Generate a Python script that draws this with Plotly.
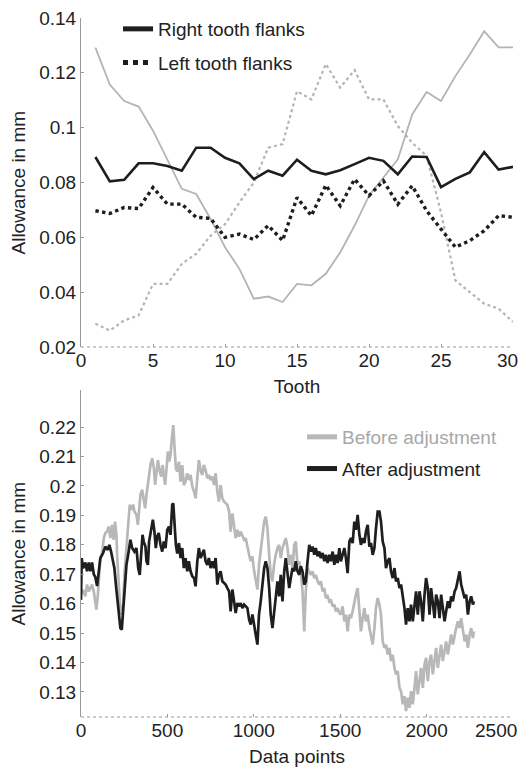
import plotly.graph_objects as go

# ---------------- top chart data ----------------
teeth = list(range(1, 31))
right_after = [0.0893, 0.0804, 0.081, 0.087, 0.087, 0.086, 0.0843, 0.0927, 0.0927, 0.089,
               0.087, 0.0812, 0.0843, 0.0825, 0.0883, 0.0843, 0.083, 0.0845, 0.0867, 0.089,
               0.0879, 0.083, 0.0895, 0.0893, 0.0783, 0.0813, 0.0837, 0.0911, 0.0847, 0.0857]
left_after = [0.0697, 0.0687, 0.0709, 0.0705, 0.0782, 0.0721, 0.0721, 0.0673, 0.0669, 0.06,
              0.0612, 0.0592, 0.0643, 0.0588, 0.0745, 0.0679, 0.079, 0.0715, 0.0812, 0.0752,
              0.0806, 0.0721, 0.0788, 0.0697, 0.063, 0.0564, 0.0588, 0.0624, 0.0679, 0.0673]
right_before = [0.1292, 0.1157, 0.1097, 0.1077, 0.0989, 0.088, 0.0777, 0.0758, 0.0667, 0.0564,
                0.0485, 0.0376, 0.0384, 0.0364, 0.043, 0.0425, 0.0467, 0.0545, 0.0643, 0.0752,
                0.082, 0.0885, 0.1048, 0.113, 0.1097, 0.1188, 0.1267, 0.1352, 0.1293, 0.1293]
left_before = [0.0285, 0.026, 0.0297, 0.0315, 0.043, 0.043, 0.0503, 0.054, 0.0606, 0.0648,
               0.0727, 0.08, 0.0927, 0.094, 0.1133, 0.1103, 0.1232, 0.1146, 0.121, 0.1103,
               0.1103, 0.1006, 0.0945, 0.0897, 0.0691, 0.0443, 0.04, 0.0358, 0.034, 0.0291]
top_yticks = [0.02, 0.04, 0.06, 0.08, 0.1, 0.12, 0.14]
top_yticktext = ["0.02", "0.04", "0.06", "0.08", "0.1", "0.12", "0.14"]
top_xticks = [0, 5, 10, 15, 20, 25, 30]
top_xticktext = ["0", "5", "10", "15", "20", "25", ""]
top_last_label = "30"

# ---------------- bottom chart data ----------------
after_head_x = [0, 4, 12, 25, 35, 45, 54, 64, 74, 83, 93, 99, 112, 128, 141, 155, 164, 174, 186, 193,
                205, 216, 228, 236, 244, 251, 263, 276, 286, 296, 309, 321, 331, 340, 348, 356, 363, 373, 379, 387,
                394, 406, 416, 425, 433, 441, 450, 460, 470, 479, 489, 499, 509, 518, 528, 534, 541, 549, 557]
after_head_y = [0.1613, 0.1755, 0.172, 0.174, 0.171, 0.174, 0.171, 0.174, 0.170, 0.169,
                0.166, 0.1693, 0.1755, 0.1772, 0.1794, 0.1783, 0.18, 0.1777, 0.1744, 0.1721,
                0.1647, 0.1574, 0.1517, 0.1512, 0.1574, 0.1653, 0.1732, 0.1777, 0.1817, 0.1789,
                0.1777, 0.1789, 0.1721, 0.1698, 0.1789, 0.1834, 0.1811, 0.1794, 0.1744, 0.1732,
                0.1811, 0.1851, 0.1885, 0.1845, 0.1789, 0.1828, 0.184, 0.18, 0.1777, 0.1811,
                0.1789, 0.1851, 0.1862, 0.1834, 0.1936, 0.1941, 0.1868, 0.18, 0.177]
before_head_x = [0, 12, 25, 35, 45, 54, 64, 74, 83, 89, 97, 104, 112, 122, 132, 141, 151, 160, 170, 180,
                 189, 197, 205, 209, 216, 224, 228, 244, 251, 263, 271, 282, 292, 302, 309, 321, 329, 336, 344, 354,
                 363, 371, 379, 387, 394, 402, 412, 422, 429, 437, 445, 454, 464, 472, 479, 487, 495, 503, 511, 518,
                 526, 534, 541, 549, 557]
before_head_y = [0.163, 0.1647, 0.1625, 0.1665, 0.1642, 0.1653, 0.1665, 0.1642, 0.1608, 0.158,
                 0.1625, 0.1698, 0.1755, 0.1772, 0.1823, 0.184, 0.1845, 0.1862, 0.1823, 0.1868,
                 0.1817, 0.1879, 0.1834, 0.1766, 0.1665, 0.1608, 0.1563, 0.1597, 0.1698, 0.1789,
                 0.1879, 0.1936, 0.1919, 0.1936, 0.1913, 0.1902, 0.1868, 0.1913, 0.197, 0.1987,
                 0.1947, 0.1924, 0.197, 0.2004, 0.2021, 0.2071, 0.2094, 0.206, 0.2004, 0.206,
                 0.2088, 0.2054, 0.2032, 0.2071, 0.2043, 0.2004, 0.206, 0.2117, 0.2083, 0.2105,
                 0.2162, 0.2207, 0.2134, 0.206, 0.2049]
tail_x = [567, 576, 586, 595, 605, 615, 624, 634, 644, 654, 663, 673, 682, 692, 702, 711, 721, 731, 740, 750,
          760, 770, 779, 789, 798, 808, 818, 827, 837, 847, 857, 866, 876, 886, 895, 905, 914, 924, 934, 944,
          953, 963, 973, 982, 992, 1002, 1011, 1021, 1030, 1040, 1050, 1060, 1069, 1079, 1089, 1098, 1108, 1117, 1127, 1137,
          1147, 1156, 1166, 1176, 1185, 1195, 1205, 1214, 1224, 1234, 1243, 1253, 1263, 1272, 1282, 1292, 1301, 1311, 1321, 1330,
          1340, 1350, 1359, 1369, 1379, 1388, 1398, 1408, 1417, 1427, 1437, 1446, 1456, 1466, 1475, 1485, 1495, 1504, 1514, 1524,
          1533, 1543, 1553, 1562, 1572, 1582, 1591, 1601, 1611, 1620, 1630, 1640, 1649, 1659, 1669, 1678, 1688, 1698, 1707, 1717,
          1727, 1736, 1746, 1756, 1765, 1775, 1785, 1794, 1804, 1814, 1823, 1833, 1843, 1852, 1862, 1872, 1881, 1891, 1901, 1910,
          1920, 1930, 1939, 1949, 1959, 1968, 1978, 1988, 1997, 2007, 2017, 2026, 2036, 2046, 2055, 2065, 2075, 2084, 2094, 2104,
          2113, 2123, 2133, 2142, 2152, 2162, 2171, 2181, 2191, 2200, 2210, 2220, 2229, 2239, 2249, 2258, 2268, 2274]
after_tail_y = [0.1806, 0.1755, 0.1789, 0.1721, 0.1755, 0.171, 0.1744, 0.171, 0.1693, 0.1687,
                0.1659, 0.1744, 0.1789, 0.1755, 0.1772, 0.1783, 0.1744, 0.1732, 0.1755, 0.1721,
                0.1744, 0.1721, 0.1755, 0.1665, 0.1698, 0.171, 0.1676, 0.167, 0.1665, 0.1653,
                0.1642, 0.1574, 0.1648, 0.1608, 0.1568, 0.1602, 0.1591, 0.1602, 0.1585, 0.1597,
                0.1591, 0.1585, 0.1546, 0.1529, 0.1563, 0.1517, 0.1495, 0.1461, 0.1563, 0.1608,
                0.1665, 0.1721, 0.1744, 0.1721, 0.1653, 0.1563, 0.1517, 0.1563, 0.1631, 0.1676,
                0.1625, 0.1698, 0.1608, 0.171, 0.1755, 0.171, 0.1653, 0.1687, 0.1721, 0.171,
                0.1744, 0.171, 0.1698, 0.1727, 0.171, 0.1665, 0.1676, 0.1744, 0.18, 0.1777,
                0.1794, 0.1766, 0.1789, 0.1761, 0.1777, 0.1755, 0.1772, 0.1744, 0.1766, 0.1738,
                0.1766, 0.1744, 0.1777, 0.1732, 0.1766, 0.1738, 0.1789, 0.1744, 0.1766, 0.1789,
                0.1755, 0.1704, 0.1811, 0.1823, 0.1806, 0.1879, 0.1851, 0.1902, 0.1834, 0.18,
                0.1823, 0.1806, 0.1845, 0.1868, 0.1794, 0.1806, 0.1766, 0.1789, 0.1856, 0.1913,
                0.1913, 0.1879, 0.1811, 0.1789, 0.1721, 0.1744, 0.1755, 0.171, 0.1687, 0.1721,
                0.1676, 0.1687, 0.1653, 0.1665, 0.1625, 0.1585, 0.1529, 0.1585, 0.154, 0.1597,
                0.154, 0.1585, 0.1642, 0.1563, 0.1642, 0.1608, 0.154, 0.1631, 0.1687, 0.1653,
                0.1563, 0.1653, 0.1608, 0.1551, 0.1631, 0.1608, 0.1551, 0.1631, 0.1585, 0.154,
                0.1574, 0.1608, 0.1585, 0.1625, 0.1608, 0.1642, 0.1653, 0.1687, 0.171, 0.1665,
                0.1642, 0.1619, 0.1631, 0.1563, 0.1608, 0.1625, 0.1597, 0.1608]
before_tail_y = [0.2082, 0.2015, 0.2071, 0.2003, 0.2015, 0.2043, 0.202, 0.2037, 0.1998, 0.1981,
                 0.1958, 0.2026, 0.2088, 0.2054, 0.2037, 0.2071, 0.2054, 0.2026, 0.2037, 0.202,
                 0.2032, 0.2003, 0.2043, 0.1981, 0.1947, 0.2003, 0.1958, 0.1947, 0.1941, 0.1936,
                 0.1913, 0.1845, 0.1907, 0.1856, 0.1823, 0.1851, 0.1828, 0.1845, 0.1828, 0.1817,
                 0.1823, 0.1789, 0.1766, 0.1744, 0.1761, 0.171, 0.1676, 0.1648, 0.1732, 0.1789,
                 0.1834, 0.1879, 0.1896, 0.1856, 0.1766, 0.1698, 0.1676, 0.1732, 0.1766, 0.1789,
                 0.18, 0.1755, 0.1789, 0.1811, 0.1823, 0.1789, 0.1732, 0.1766, 0.1721, 0.18,
                 0.1811, 0.1732, 0.1744, 0.171, 0.1642, 0.1506, 0.1642, 0.1721, 0.171, 0.1698,
                 0.171, 0.1687, 0.1698, 0.1676, 0.1665, 0.1676, 0.1642, 0.1653, 0.1619, 0.1625,
                 0.1608, 0.1614, 0.1591, 0.1597, 0.1574, 0.1585, 0.1568, 0.1563, 0.1591, 0.154,
                 0.1563, 0.1506, 0.1563, 0.1551, 0.1574, 0.1608, 0.1631, 0.1653, 0.1563, 0.1506,
                 0.1551, 0.1585, 0.154, 0.1563, 0.1517, 0.1495, 0.1461, 0.1517, 0.1585, 0.1619,
                 0.1597, 0.1563, 0.1472, 0.145, 0.1461, 0.1427, 0.145, 0.1405, 0.1427, 0.1382,
                 0.136, 0.1371, 0.1314, 0.1303, 0.1258, 0.1286, 0.1235, 0.1281, 0.1246, 0.1303,
                 0.1258, 0.1314, 0.1371, 0.1292, 0.1348, 0.1382, 0.1314, 0.1393, 0.1416, 0.1337,
                 0.1405, 0.1427, 0.136, 0.1416, 0.145, 0.1382, 0.1427, 0.1461, 0.1405, 0.145,
                 0.1472, 0.1427, 0.1472, 0.1495, 0.1461, 0.1495, 0.1517, 0.154, 0.1517, 0.1551,
                 0.1517, 0.1472, 0.1495, 0.145, 0.1495, 0.1517, 0.1483, 0.1506]
bot_yticks = [0.13, 0.14, 0.15, 0.16, 0.17, 0.18, 0.19, 0.2, 0.21, 0.22]
bot_yticktext = ["0.13", "0.14", "0.15", "0.16", "0.17", "0.18", "0.19", "0.2", "0.21", "0.22"]
bot_xticks = [0, 500, 1000, 1500, 2000, 2500]
bot_xticktext = ["0", "500", "1000", "1500", "2000", ""]
bot_last_label = "2500"

after_x = after_head_x + tail_x
after_y = after_head_y + after_tail_y
before_x = before_head_x + tail_x
before_y = before_head_y + before_tail_y

# ---------------- styling ----------------
BLACK = "#1e1e1e"
GRAY = "#b4b4b4"
AXIS = "#9a9a9a"
FONT = "Liberation Sans, Arial, sans-serif"
FS = 19

W, H = 522, 773
ML, MR, MT, MB = 81, 9, 18, 56
PW = W - ML - MR
PH = H - MT - MB

def frac(ypx):
    return (H - MB - ypx) / PH

fig = go.Figure()

# top chart
fig.add_trace(go.Scatter(x=teeth, y=right_before, mode="lines", line=dict(color=GRAY, width=1.8),
                         showlegend=False, xaxis="x", yaxis="y"))
fig.add_trace(go.Scatter(x=teeth, y=left_before, mode="lines", line=dict(color=GRAY, width=2.2, dash="dot"),
                         showlegend=False, xaxis="x", yaxis="y"))
fig.add_trace(go.Scatter(x=teeth, y=right_after, mode="lines", line=dict(color=BLACK, width=2.6),
                         showlegend=False, xaxis="x", yaxis="y"))
fig.add_trace(go.Scatter(x=teeth, y=left_after, mode="lines", line=dict(color=BLACK, width=3.4, dash="dot"),
                         showlegend=False, xaxis="x", yaxis="y"))
# legend entries (top)
fig.add_trace(go.Scatter(x=[None], y=[None], mode="lines", line=dict(color=BLACK, width=5),
                         name="Right tooth flanks", legend="legend", legendgroup="a", xaxis="x", yaxis="y"))
fig.add_trace(go.Scatter(x=[None], y=[None], mode="lines", line=dict(color=BLACK, width=5, dash="dot"),
                         name="Left tooth flanks", legend="legend", legendgroup="b", xaxis="x", yaxis="y"))

# bottom chart
fig.add_trace(go.Scatter(x=before_x, y=before_y, mode="lines", line=dict(color="#b8b8b8", width=2.7),
                         showlegend=False, xaxis="x2", yaxis="y2"))
fig.add_trace(go.Scatter(x=after_x, y=after_y, mode="lines", line=dict(color=BLACK, width=2.7),
                         showlegend=False, xaxis="x2", yaxis="y2"))
fig.add_trace(go.Scatter(x=[None], y=[None], mode="lines", line=dict(color="#b8b8b8", width=5),
                         name="<span style='color:#a8a8a8'>Before adjustment</span>",
                         legend="legend2", legendgroup="c", xaxis="x2", yaxis="y2"))
fig.add_trace(go.Scatter(x=[None], y=[None], mode="lines", line=dict(color=BLACK, width=5),
                         name="After adjustment", legend="legend2", legendgroup="d", xaxis="x2", yaxis="y2"))

axis_common = dict(showgrid=False, zeroline=False, ticks="inside", ticklen=3, tickcolor=AXIS,
                   automargin=False,
                   tickfont=dict(family=FONT, size=FS, color="#222"),
                   title_font=dict(family=FONT, size=FS, color="#222"))

fig.update_layout(
    width=W, height=H,
    margin=dict(l=ML, r=MR, t=MT, b=MB, autoexpand=False),
    paper_bgcolor="white", plot_bgcolor="white",
    font=dict(family=FONT, size=FS, color="#222"),
    xaxis=dict(domain=[0, 1], range=[0, 30], tickvals=top_xticks, ticktext=top_xticktext, anchor="y",
               showline=False, title=dict(text="Tooth", standoff=9), **axis_common),
    yaxis=dict(domain=[frac(347), 1], range=[0.02, 0.14], tickvals=top_yticks, ticktext=top_yticktext,
               anchor="x", showline=True, linecolor=AXIS, linewidth=1, **axis_common),
    xaxis2=dict(domain=[0, 1], range=[0, 2500], tickvals=bot_xticks, ticktext=bot_xticktext, anchor="y2",
                showline=False, title=dict(text="Data points", standoff=9), **axis_common),
    yaxis2=dict(domain=[0, frac(390)], range=[0.1215, 0.2326], tickvals=bot_yticks, ticktext=bot_yticktext,
                anchor="x2", showline=True, linecolor=AXIS, linewidth=1, **axis_common),
    legend=dict(xref="container", yref="container", x=118 / W, xanchor="left",
                y=1 - 10 / H, yanchor="top",
                bgcolor="rgba(0,0,0,0)", font=dict(family=FONT, size=FS, color="#222"),
                tracegroupgap=6, itemwidth=30),
    legend2=dict(xref="container", yref="container", x=302 / W, xanchor="left",
                 y=1 - 418 / H, yanchor="top",
                 bgcolor="rgba(0,0,0,0)", font=dict(family=FONT, size=FS, color="#222"),
                 tracegroupgap=4, itemwidth=30),
)

# y-axis titles
for yr in ("y domain", "y2 domain"):
    fig.add_annotation(text="Allowance in mm", textangle=-90, xref="paper", yref=yr,
                       x=(18 - ML) / PW, y=0.5, xanchor="center", yanchor="middle", showarrow=False,
                       font=dict(family=FONT, size=FS, color="#222"))

# last x tick labels, nudged left to stay inside the figure as in the reference
fig.add_annotation(text=top_last_label, xref="x", yref="y domain", x=top_xticks[-1], y=0,
                   xanchor="center", yanchor="middle", xshift=-6, yshift=-13, showarrow=False,
                   font=dict(family=FONT, size=FS, color="#222"))
fig.add_annotation(text=bot_last_label, xref="x2", yref="y2 domain", x=bot_xticks[-1], y=0,
                   xanchor="center", yanchor="middle", xshift=-17, yshift=-13, showarrow=False,
                   font=dict(family=FONT, size=FS, color="#222"))

# dotted bottom axis lines (drawn in axis-domain coordinates)
for xr, yr in (("x domain", "y domain"), ("x2 domain", "y2 domain")):
    fig.add_shape(type="line", xref=xr, yref=yr, x0=0, x1=1, y0=0, y1=0,
                  line=dict(color=AXIS, width=1, dash="dot"))

fig.write_html("out.html", config={"displayModeBar": False},
               post_script="document.body.style.margin='0';")
